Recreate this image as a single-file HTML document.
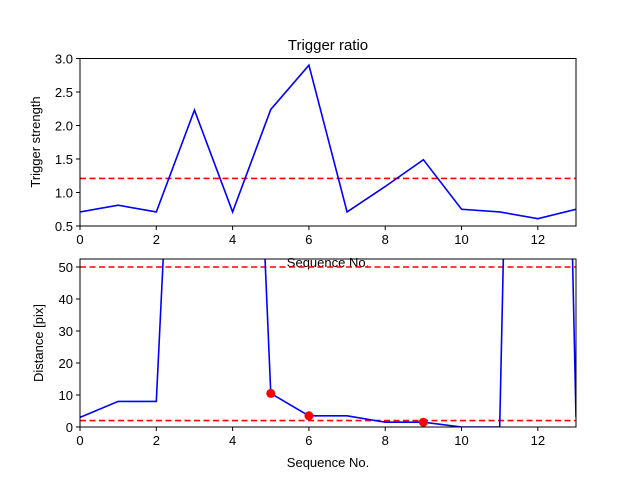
<!DOCTYPE html>
<html><head><meta charset="utf-8"><style>
body{margin:0;background:#fff}
svg text{font-family:"Liberation Sans","DejaVu Sans",sans-serif;fill:#000}
</style></head><body>
<svg id="c" width="640" height="480" xmlns="http://www.w3.org/2000/svg">
<rect width="640" height="480" fill="#fff"/>
</svg>
<script>
const seqNo=[0,1,2,3,4,5,6,7,8,9,10,11,12,13];
const strength=[0.71,0.81,0.71,2.23,0.71,2.24,2.90,0.71,1.09,1.49,0.75,0.71,0.61,0.75];
const strengthThreshold=1.21;
const distance=[3,8,8,255,290,10.5,3.5,3.5,1.5,1.5,0,0,550,3];
const distThresholds=[50,2];
const markedIdx=[5,6,9];
const xTicks=[0,2,4,6,8,10,12];
const topYTicks=[0.5,1.0,1.5,2.0,2.5,3.0];
const botYTicks=[0,10,20,30,40,50];

const svg=document.getElementById('c');
const NS='http://www.w3.org/2000/svg';
function mk(tag,attrs,parent){const e=document.createElementNS(NS,tag);for(const k in attrs)e.setAttribute(k,attrs[k]);(parent||svg).appendChild(e);return e;}
const L=80,R=576;
const xs=v=>L+(v-0)/(13-0)*(R-L);
function panel(top,bot,ymin,ymax,name){
  const ys=v=>bot-(v-ymin)/(ymax-ymin)*(bot-top);
  const g=mk('g',{});
  
  
  const cp=mk('clipPath',{id:'cp'+name},g);
  mk('rect',{x:L,y:top,width:R-L,height:bot-top},cp);
  return {ys,g,clip:'url(#cp'+name+')',top,bot};
}
function axes(p,yticks,fmt){
  const f=mk('rect',{x:L,y:p.top,width:R-L,height:p.bot-p.top,fill:'none',stroke:'#000','stroke-width':1},p.g);
  
  
  xTicks.forEach(t=>{const x=xs(t);
    mk('line',{x1:x,x2:x,y1:p.bot,y2:p.bot+4,stroke:'#000'},p.g);
    const tx=mk('text',{x:x,y:p.bot+18,'font-size':13,'text-anchor':'middle'},p.g);tx.textContent=t;
    
    });
  yticks.forEach(t=>{const y=p.ys(t);
    mk('line',{x1:L-4,x2:L,y1:y,y2:y,stroke:'#000'},p.g);
    const tx=mk('text',{x:L-7,y:y+5,'font-size':13,'text-anchor':'end'},p.g);tx.textContent=fmt(t);
    
    });
}
function hline(p,v){const y=p.ys(v);
  const l=mk('line',{x1:L,x2:R,y1:y,y2:y,stroke:'#f00','stroke-width':1.6,'stroke-dasharray':'6,3.5','clip-path':p.clip},p.g);
  
  }
function series(p,vals){
  const pts=seqNo.map((s,i)=>xs(s)+','+p.ys(vals[i])).join(' ');
  const l=mk('polyline',{points:pts,fill:'none',stroke:'#00f','stroke-width':1.6,'clip-path':p.clip},p.g);
  
  }

// top panel
const p1=panel(58.5,226,0.5,3.0,'top-panel');
hline(p1,strengthThreshold);
series(p1,strength);
axes(p1,topYTicks,v=>v.toFixed(1));
let t=mk('text',{x:328,y:50,'font-size':15,'text-anchor':'middle'});t.textContent='Trigger ratio';


t=mk('text',{x:0,y:0,'font-size':13,'text-anchor':'middle',transform:'translate(40,142) rotate(-90)'});t.textContent='Trigger strength';


t=mk('text',{x:328,y:267,'font-size':13,'text-anchor':'middle'});t.textContent='Sequence No.';



// bottom panel
const p2=panel(259,427,0,52.5,'bottom-panel');
distThresholds.forEach(v=>hline(p2,v));
series(p2,distance);
markedIdx.forEach(i=>{const c=mk('circle',{cx:xs(seqNo[i]),cy:p2.ys(distance[i]),r:4.5,fill:'#f00'},p2.g);
  
  });
axes(p2,botYTicks,v=>String(v));
t=mk('text',{x:0,y:0,'font-size':13,'text-anchor':'middle',transform:'translate(43,343) rotate(-90)'});t.textContent='Distance [pix]';


t=mk('text',{x:328,y:467,'font-size':13,'text-anchor':'middle'});t.textContent='Sequence No.';


</script>
</body></html>
